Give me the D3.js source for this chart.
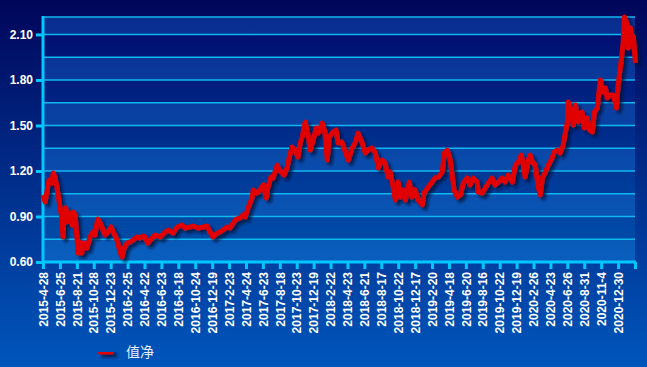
<!DOCTYPE html>
<html>
<head>
	<meta charset="utf-8">
	<title>净值</title>
	<script src="https://d3js.org/d3.v7.min.js"></script>
	<style>
		body { margin: 0; background: #0040a0; }
		svg { display: block; }
	</style>
</head>
<body>
	<script type="text/javascript">

		// Tick labels, one every 40 trading days
		var tickLabels = ['2015-4-28', '2015-6-25', '2015-8-21', '2015-10-28', '2015-12-23',
			'2016-2-25', '2016-4-22', '2016-6-23', '2016-8-18', '2016-10-24', '2016-12-19',
			'2017-2-23', '2017-4-24', '2017-6-23', '2017-8-18', '2017-10-23', '2017-12-19',
			'2018-2-22', '2018-4-23', '2018-6-21', '2018-8-17', '2018-10-22', '2018-12-17',
			'2019-2-20', '2019-4-18', '2019-6-20', '2019-8-16', '2019-10-22', '2019-12-19',
			'2020-2-26', '2020-4-23', '2020-6-26', '2020-8-31', '2020-11-4', '2020-12-30'];
		var tickStep = 40;
		var lastDay = 1400;

		// Trading day index and net value
		var days = [0, 5, 9, 14, 21, 24, 28, 33, 35, 40, 45, 47, 50, 54, 57, 62, 69, 71, 76, 80,
			83, 85, 92, 95, 104, 111, 118, 123, 128, 130, 135, 140, 147, 154, 161, 166, 173, 177, 182, 187,
			192, 199, 206, 213, 222, 230, 237, 241, 248, 258, 265, 277, 289, 296, 308, 317, 329, 336, 348, 355,
			367, 379, 388, 395, 402, 412, 419, 426, 435, 442, 450, 457, 466, 473, 478, 485, 495, 497, 506, 513,
			521, 528, 532, 539, 544, 554, 556, 563, 570, 577, 582, 589, 596, 603, 608, 613, 620, 627, 632, 639,
			646, 651, 660, 667, 672, 677, 684, 693, 698, 707, 715, 722, 731, 738, 745, 755, 762, 769, 778, 786,
			793, 802, 809, 816, 821, 828, 833, 840, 845, 852, 857, 866, 873, 880, 887, 897, 901, 911, 920, 927,
			935, 944, 949, 956, 963, 968, 972, 980, 987, 994, 1003, 1010, 1017, 1027, 1029, 1039, 1046, 1053, 1062, 1069,
			1077, 1086, 1093, 1100, 1110, 1117, 1124, 1131, 1136, 1140, 1148, 1152, 1157, 1164, 1171, 1176, 1181, 1188, 1195, 1204,
			1209, 1216, 1223, 1230, 1240, 1242, 1249, 1254, 1259, 1266, 1275, 1280, 1287, 1292, 1299, 1304, 1311, 1313, 1318, 1323,
			1330, 1334, 1342, 1349, 1356, 1360, 1368, 1372, 1375, 1382, 1384, 1389, 1394, 1396, 1401];

		var nav = [1.042, 0.996, 1.061, 1.141, 1.121, 1.187, 1.160, 1.094, 1.055, 0.963,
			0.890, 0.765, 0.943, 0.956, 0.864, 0.923, 0.844, 0.930, 0.910, 0.765,
			0.659, 0.732, 0.659, 0.725, 0.692, 0.765, 0.798, 0.778, 0.864, 0.883,
			0.857, 0.824, 0.778, 0.798, 0.831, 0.798, 0.758, 0.725, 0.666, 0.633,
			0.692, 0.725, 0.732, 0.745, 0.765, 0.758, 0.771, 0.765, 0.725, 0.758,
			0.778, 0.765, 0.798, 0.811, 0.791, 0.831, 0.844, 0.824, 0.831, 0.837,
			0.824, 0.831, 0.837, 0.798, 0.765, 0.791, 0.798, 0.811, 0.831, 0.824,
			0.857, 0.883, 0.890, 0.910, 0.897, 0.956, 1.028, 1.075, 1.055, 1.075,
			1.108, 1.022, 1.094, 1.160, 1.154, 1.239, 1.220, 1.193, 1.174, 1.220,
			1.286, 1.358, 1.338, 1.292, 1.384, 1.424, 1.523, 1.437, 1.338, 1.404,
			1.483, 1.450, 1.516, 1.450, 1.272, 1.424, 1.450, 1.470, 1.384, 1.391,
			1.325, 1.272, 1.351, 1.384, 1.450, 1.384, 1.319, 1.338, 1.351, 1.319,
			1.220, 1.272, 1.253, 1.160, 1.193, 1.094, 1.009, 1.127, 1.028, 1.075,
			1.009, 1.127, 1.028, 1.075, 1.009, 0.976, 1.055, 1.094, 1.127, 1.154,
			1.160, 1.193, 1.319, 1.338, 1.272, 1.160, 1.075, 1.028, 1.042, 1.121,
			1.154, 1.108, 1.154, 1.127, 1.061, 1.055, 1.088, 1.121, 1.154, 1.108,
			1.127, 1.154, 1.127, 1.174, 1.127, 1.239, 1.259, 1.305, 1.239, 1.160,
			1.272, 1.305, 1.259, 1.239, 1.094, 1.042, 1.154, 1.193, 1.239, 1.286,
			1.325, 1.338, 1.319, 1.371, 1.523, 1.655, 1.589, 1.503, 1.635, 1.523,
			1.589, 1.483, 1.549, 1.470, 1.457, 1.589, 1.615, 1.681, 1.800, 1.721,
			1.747, 1.681, 1.701, 1.701, 1.615, 1.767, 1.945, 2.050, 2.215, 2.162,
			2.011, 2.143, 2.030, 2.083, 1.912];

		var yLabels = [0.60, 0.90, 1.20, 1.50, 1.80, 2.10];
		var gridStep = 0.15;
		var yMin = 0.60, yMax = 2.215;

		var outerWidth = 647, outerHeight = 367;
		var plot = {left: 43, top: 17, right: 635, bottom: 262};

		var x = d3.scaleLinear().domain([0, lastDay]).range([plot.left, plot.right]);
		var y = d3.scaleLinear().domain([yMin, yMax]).range([plot.bottom, plot.top]);

		var svg = d3.select("body")
					.append("svg")
					.attr("width", outerWidth)
					.attr("height", outerHeight);

		var defs = svg.append('defs');

		var bg = defs.append('linearGradient')
					 .attr('id', 'bg')
					 .attr('x1', 0).attr('y1', 0).attr('x2', 0).attr('y2', 1);
		bg.append('stop').attr('offset', '0%').attr('stop-color', '#00065a');
		bg.append('stop').attr('offset', '100%').attr('stop-color', '#0056bc');

		var plotBg = defs.append('linearGradient')
						 .attr('id', 'plotBg')
						 .attr('gradientUnits', 'userSpaceOnUse')
						 .attr('x1', 0).attr('y1', plot.top).attr('x2', 0).attr('y2', plot.bottom);
		plotBg.append('stop').attr('offset', '0%').attr('stop-color', '#000a6c');
		plotBg.append('stop').attr('offset', '100%').attr('stop-color', '#0052ae');

		var shadow = defs.append('filter')
						 .attr('id', 'shadow')
						 .attr('filterUnits', 'userSpaceOnUse')
						 .attr('x', 0).attr('y', 0)
						 .attr('width', outerWidth).attr('height', outerHeight);
		shadow.append('feDropShadow')
			  .attr('dx', 3).attr('dy', 3)
			  .attr('stdDeviation', 1.5)
			  .attr('flood-color', '#000830')
			  .attr('flood-opacity', 0.75);

		// Page background
		svg.append('rect')
		   .attr('width', outerWidth)
		   .attr('height', outerHeight)
		   .attr('fill', 'url(#bg)');

		// Plot area
		svg.append('rect')
		   .attr('x', plot.left)
		   .attr('y', plot.top)
		   .attr('width', plot.right - plot.left)
		   .attr('height', plot.bottom - plot.top)
		   .attr('fill', 'url(#plotBg)');

		// Lighter bands, every other 0.15 step
		var bands = yLabels.map(function(v) { return [v, Math.min(v + gridStep, yMax)]; });
		svg.append('g')
		   .selectAll('rect')
		   .data(bands)
		   .enter()
		   .append('rect')
		   .attr('x', plot.left)
		   .attr('width', plot.right - plot.left)
		   .attr('y', function(d) { return y(d[1]); })
		   .attr('height', function(d) { return y(d[0]) - y(d[1]); })
		   .attr('fill', '#1f7ee0')
		   .attr('fill-opacity', 0.3);

		// Grid lines
		var gridVals = d3.range(0, 11).map(function(i) { return +(yMin + i * gridStep).toFixed(2); });
		gridVals.push(yMax);
		svg.append('g')
		   .selectAll('line')
		   .data(gridVals)
		   .enter()
		   .append('line')
		   .attr('x1', plot.left)
		   .attr('x2', plot.right)
		   .attr('y1', function(d) { return y(d); })
		   .attr('y2', function(d) { return y(d); })
		   .attr('stroke', '#10b8f0')
		   .attr('stroke-width', 1.5);

		// Y axis
		var yAxis = svg.append('g')
					   .attr('transform', 'translate(' + plot.left + ',0)')
					   .call(d3.axisLeft(y)
					   		   .tickValues(yLabels)
					   		   .tickSize(7)
					   		   .tickPadding(3)
					   		   .tickFormat(d3.format('.2f')));
		yAxis.select('.domain').remove();
		yAxis.selectAll('.tick line').attr('stroke', '#00c8ff').attr('stroke-width', 3);
		yAxis.selectAll('.tick text')
			 .attr('fill', '#ffffff')
			 .style('font', 'bold 12px "Liberation Sans", Arial, sans-serif');

		// X axis
		var tickDays = d3.range(0, tickLabels.length + 1).map(function(i) { return i * tickStep; });
		var xAxis = svg.append('g')
					   .attr('transform', 'translate(0,' + plot.bottom + ')')
					   .call(d3.axisBottom(x)
					   		   .tickValues(tickDays)
					   		   .tickSize(7)
					   		   .tickFormat(function(d, i) { return tickLabels[i] || ''; }));
		xAxis.select('.domain').remove();
		xAxis.selectAll('.tick line').attr('stroke', '#00c8ff').attr('stroke-width', 3);
		xAxis.selectAll('.tick text')
			 .attr('fill', '#ffffff')
			 .attr('transform', 'rotate(-90)')
			 .attr('x', -10)
			 .attr('y', 0)
			 .attr('dy', '0.35em')
			 .style('text-anchor', 'end')
			 .style('font', 'bold 12px "Liberation Sans", Arial, sans-serif');

		// Axis lines
		svg.append('line')
		   .attr('x1', plot.left).attr('x2', plot.left)
		   .attr('y1', plot.top - 1).attr('y2', plot.bottom + 1)
		   .attr('stroke', '#00c8ff').attr('stroke-width', 3);
		svg.append('line')
		   .attr('x1', plot.left - 1).attr('x2', plot.right + 1)
		   .attr('y1', plot.bottom).attr('y2', plot.bottom)
		   .attr('stroke', '#00c8ff').attr('stroke-width', 3);

		// Net value line
		var series = days.map(function(d, i) { return {day: d, value: nav[i]}; });
		var line = d3.line()
					 .x(function(d) { return x(d.day); })
					 .y(function(d) { return y(d.value); });

		svg.append('path')
		   .datum(series)
		   .attr('d', line)
		   .attr('fill', 'none')
		   .attr('stroke', '#e00000')
		   .attr('stroke-width', 5)
		   .attr('stroke-linejoin', 'round')
		   .attr('filter', 'url(#shadow)');

		// Legend
		var legend = svg.append('g')
						.attr('transform', 'translate(98,352)');
		legend.append('rect')
			  .attr('x', 0).attr('y', -2.5)
			  .attr('width', 16).attr('height', 5)
			  .attr('rx', 2)
			  .attr('fill', '#e00000')
			  .attr('filter', 'url(#shadow)');
		legend.append('text')
			  .attr('x', 28)
			  .attr('y', 5)
			  .attr('fill', '#e8eef8')
			  .style('font', '14px "Noto Sans CJK SC", sans-serif')
			  .text('值净');

	</script>
</body>
</html>
